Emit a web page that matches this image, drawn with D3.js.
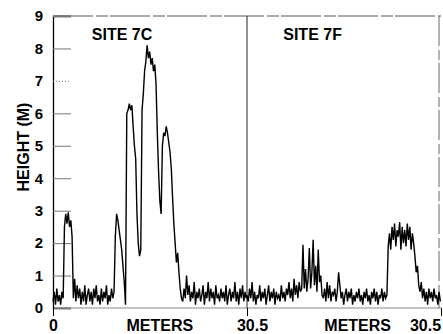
<!DOCTYPE html>
<html>
<head>
<meta charset="utf-8">
<script src="https://cdn.jsdelivr.net/npm/d3@7"></script>
<style>
  body { margin: 0; background: #fff; }
  text { font-family: "Liberation Sans", Arial, sans-serif; font-weight: bold; fill: #000; }
</style>
</head>
<body>
<div id="chart"></div>
<script>
// sampling step along the transect (m)
const stepM = 0.2;

// site 7C, 0 - 30.4 m
const site7C = [
  0.2,0.5,0.1,0.6,0.2,0.4,0.1,0.5,0.3,
  2.5,2.9,2.6,2.95,2.5,2.7,2.2,
  0.3,0.9,0.2,0.7,0.3,0.6,0.1,0.5,0.2,0.7,0.1,0.4,0.6,0.2,0.5,0.1,0.6,0.3,0.7,0.2,0.4,0.1,0.6,0.2,0.5,0.3,0.7,0.1,0.4,0.2,0.6,0.3,0.5,
  2.2,2.9,2.7,2.4,2.1,1.8,1.3,0.8,0.1,
  6.0,6.1,6.3,6.1,6.25,5.6,5.0,4.6,2.9,2.0,1.6,1.8,
  6.1,6.6,7.3,7.6,8.1,7.7,7.9,7.5,7.7,7.3,7.5,6.9,5.4,4.2,3.3,2.9,
  5.0,5.4,5.3,5.6,5.4,5.1,4.8,4.3,3.4,2.6,2.0,1.4,1.7,1.1,0.6,0.3,
  0.2,0.6,0.3,1.0,0.4,0.7,0.2,0.5,0.3,0.8,0.1,0.5,0.3,0.6,0.2,0.4,0.7,0.1,0.5,0.3,
  0.8,0.2,0.6,0.3,0.5,0.1,0.7,0.3,0.4,0.2,0.6,0.3,0.5,0.2,0.7,0.1,0.4,0.6,0.2,0.5,
  0.3,0.8,0.2,0.5,0.1,0.6,0.3,0.7,0.2,0.5,0.3
];

// site 7F, 30.5 - 60.9 m
const site7F = [
  0.4,0.2,0.6,0.3,0.8,0.2,0.5,0.1,0.4,0.3,0.7,0.2,0.5,0.3,0.6,0.1,0.4,0.7,0.2,0.5,
  0.3,0.6,0.1,0.5,0.3,0.4,0.2,0.7,0.3,0.5,0.2,0.6,0.4,0.8,0.3,0.6,0.2,0.9,0.4,0.7,
  0.3,0.8,0.5,0.6,
  1.95,0.6,1.2,0.5,0.9,1.85,0.6,1.1,2.1,0.7,1.3,0.5,1.8,0.8,1.0,0.4,
  0.3,0.6,0.2,0.8,0.3,0.7,0.2,0.5,0.4,0.6,0.2,0.5,1.1,0.7,0.3,0.5,0.1,0.4,0.6,0.2,
  0.5,0.3,0.6,0.1,0.4,0.2,0.5,0.3,0.6,0.2,0.4,0.1,0.5,0.3,0.6,0.2,0.4,0.1,0.5,0.3,
  0.6,0.2,0.5,0.1,0.4,0.3,0.6,0.2,0.5,0.3,0.4,
  1.9,2.3,1.8,2.5,2.1,2.6,1.9,2.4,2.2,2.65,1.8,2.5,2.0,2.4,1.9,2.6,2.1,2.5,1.8,2.3,2.0,
  1.6,1.1,1.3,0.7,0.5,0.8,
  0.3,0.6,0.2,0.5,0.1,0.6,0.3,0.5,0.2,0.6,0.3,0.4,0.1,0.5,0.2
];

const siteLabels = [{ name: 'SITE 7C', at: 6.1 }, { name: 'SITE 7F', at: 36.2 }];
const xTicks = [0, 30.5, 61];
const xTickLabels = ['0', '30.5', '30.5'];
const meterLabels = [16.8, 47.9];
const yTicks = [0, 1, 2, 3, 4, 5, 6, 7, 8, 9];

const width = 443, height = 334;

const x = d3.scaleLinear().domain([0, 61]).range([53, 441]);
const y = d3.scaleLinear().domain([0, 9]).range([308, 16]);

const data = site7C.map((v, i) => ({ m: i * stepM, h: v }))
  .concat(site7F.map((v, i) => ({ m: 30.5 + i * stepM, h: v })));

const svg = d3.select('#chart').append('svg')
  .attr('width', width)
  .attr('height', height);

svg.append('rect').attr('width', width).attr('height', height).attr('fill', '#fff');

// frame
svg.append('line')
  .attr('x1', x(0)).attr('x2', x(61)).attr('y1', y(9)).attr('y2', y(9))
  .attr('stroke', '#555').attr('stroke-width', 1).attr('stroke-dasharray', '40 3 12 2');
svg.append('line')
  .attr('x1', x(0)).attr('x2', x(61)).attr('y1', y(0)).attr('y2', y(0))
  .attr('stroke', '#888').attr('stroke-width', 1);
svg.append('line')
  .attr('x1', x(30.5)).attr('x2', x(30.5)).attr('y1', y(9)).attr('y2', y(0))
  .attr('stroke', '#222').attr('stroke-width', 1);
svg.append('line')
  .attr('x1', x(61) - 2).attr('x2', x(61) - 2).attr('y1', y(9)).attr('y2', y(0))
  .attr('stroke', '#666').attr('stroke-width', 1).attr('stroke-dasharray', '30 4 10 3');

// y axis
const yAxis = svg.append('g')
  .attr('transform', `translate(${x(0)},0)`)
  .call(d3.axisLeft(y).tickValues(yTicks).tickSize(-18).tickPadding(10).tickFormat(d3.format('d')));
yAxis.select('.domain').attr('stroke', '#000').attr('stroke-width', 1.3);
yAxis.selectAll('.tick line').attr('stroke', '#777');
yAxis.selectAll('.tick').filter(d => d === 7).select('line').attr('stroke-dasharray', '1 2');
yAxis.selectAll('text').style('font-size', '15px');

// x axis
const xAxis = svg.append('g')
  .attr('transform', `translate(0,${y(0)})`)
  .call(d3.axisBottom(x).tickValues(xTicks).tickSize(8).tickPadding(4)
    .tickFormat((d, i) => xTickLabels[i]));
xAxis.select('.domain').remove();
xAxis.selectAll('.tick line').attr('stroke', '#000');
xAxis.selectAll('text').style('font-size', '16px');
xAxis.selectAll('.tick').filter(d => d === 30.5).select('text').attr('dx', 5);
xAxis.selectAll('.tick').filter(d => d === 61).select('text').attr('dx', -16);

svg.selectAll('.meters')
  .data(meterLabels)
  .enter().append('text')
  .attr('class', 'meters')
  .attr('x', d => x(d))
  .attr('y', 331)
  .attr('text-anchor', 'middle')
  .style('font-size', '16px')
  .text('METERS');

// height profile
const line = d3.line().x(d => x(d.m)).y(d => y(d.h));
svg.append('path')
  .datum(data)
  .attr('fill', 'none')
  .attr('stroke', '#000')
  .attr('stroke-width', 1.4)
  .attr('stroke-linejoin', 'miter')
  .attr('d', line);

// site names
svg.selectAll('.site')
  .data(siteLabels)
  .enter().append('text')
  .attr('class', 'site')
  .attr('x', d => x(d.at))
  .attr('y', 39.5)
  .style('font-size', '16px')
  .text(d => d.name);

// y title
svg.append('text')
  .attr('transform', 'translate(29,147) rotate(-90)')
  .attr('text-anchor', 'middle')
  .style('font-size', '16px')
  .text('HEIGHT (M)');
</script>
</body>
</html>
